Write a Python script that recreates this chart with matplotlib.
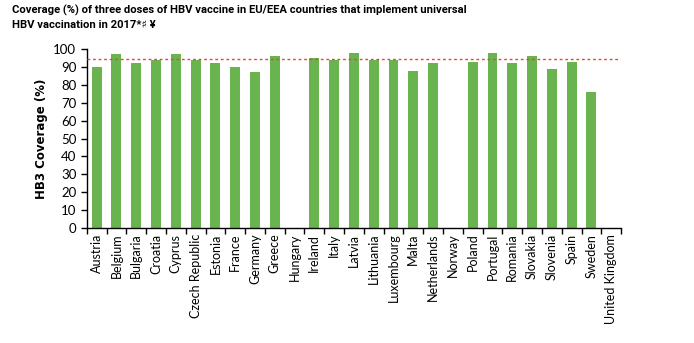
import numpy as np
import matplotlib.pyplot as plt
from matplotlib.ticker import FixedLocator, NullFormatter

countries = [
    "Austria", "Belgium", "Bulgaria", "Croatia", "Cyprus", "Czech Republic",
    "Estonia", "France", "Germany", "Greece", "Hungary", "Ireland", "Italy",
    "Latvia", "Lithuania", "Luxembourg", "Malta", "Netherlands", "Norway",
    "Poland", "Portugal", "Romania", "Slovakia", "Slovenia", "Spain",
    "Sweden", "United Kingdom",
]
# NaN = no data reported
coverage = [
    90, 97, 92, 94, 97, 94, 92, 90, 87, 96, np.nan, 95, 94, 98, 94, 94, 88,
    92, np.nan, 93, 98, 92, 96, 89, 93, 76, np.nan,
]
reference_level = 94.5

title = ("Coverage (%) of three doses of HBV vaccine in EU/EEA countries that implement universal\n"
         "HBV vaccination in 2017*\u266f \u00a5")

fig = plt.figure(figsize=(6.94, 3.43), dpi=100)
ax = fig.add_axes([0.125, 0.335, 0.77, 0.522])

x = np.arange(len(countries))
vals = np.nan_to_num(np.array(coverage, dtype=float))
ax.bar(x, vals, width=0.5, color="#6ab44f", zorder=2)
ax.axhline(reference_level, color="#e8453c", linestyle=(0, (2, 2)), linewidth=1.0, zorder=3)

ax.set_xlim(-0.5, len(countries) - 0.5)
ax.set_ylim(0, 100)
ax.set_yticks(range(0, 101, 10))
ax.set_xticks(x)
ax.set_xticklabels(countries, rotation=90, fontsize=9, family="Lato")
ax.xaxis.set_minor_locator(FixedLocator(np.arange(-0.5, len(countries), 1)))
ax.xaxis.set_minor_formatter(NullFormatter())
ax.tick_params(axis="x", which="major", length=0, pad=4)
ax.tick_params(axis="x", which="minor", length=4, width=1, direction="out")
ax.tick_params(axis="y", length=4, width=1, labelsize=9.5)
for lbl in ax.get_yticklabels():
    lbl.set_family("Lato")

for s in ("top", "right"):
    ax.spines[s].set_visible(False)
ax.spines["left"].set_linewidth(1)
ax.spines["bottom"].set_linewidth(1)

ax.set_ylabel("HB3 Coverage (%)", fontsize=8.5, fontweight="bold", family="DejaVu Sans")

fig.text(0.017, 0.985, title, ha="left", va="top", fontsize=8.1, fontweight="bold",
         family=["Roboto", "DejaVu Sans"], linespacing=1.45)

fig.savefig("out.png", dpi=100)
